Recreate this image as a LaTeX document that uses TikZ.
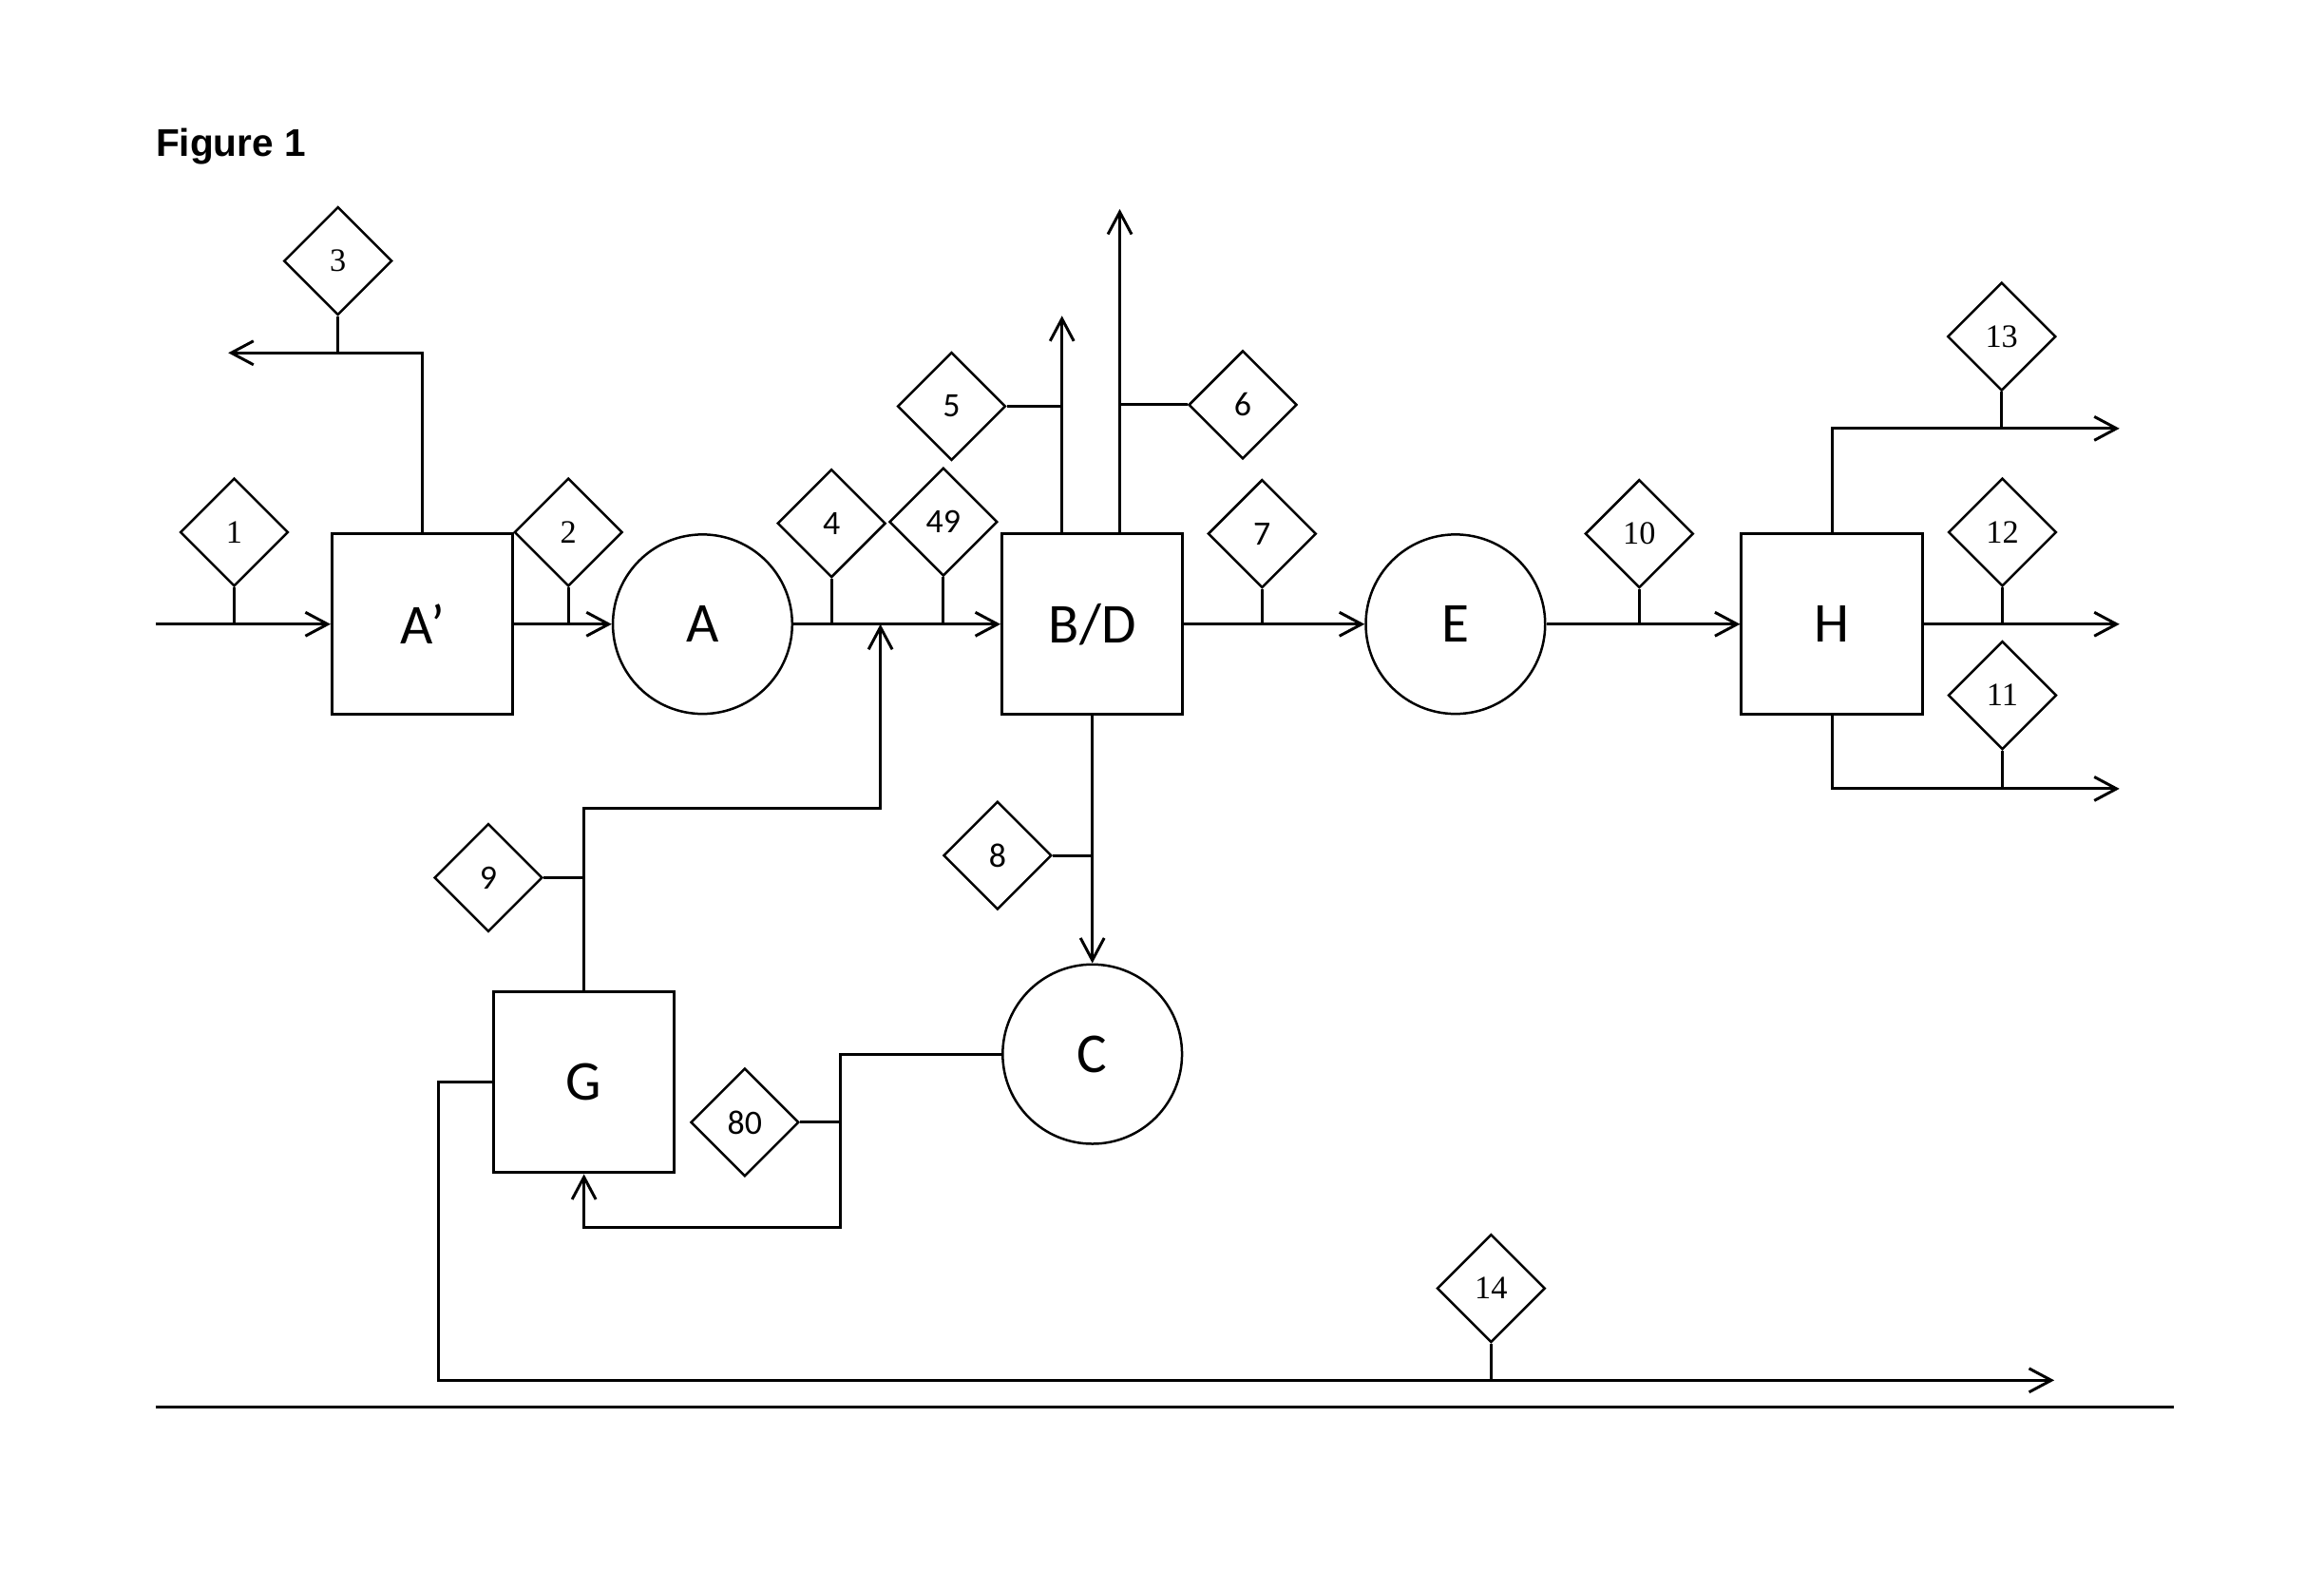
\documentclass[tikz,border=0pt]{standalone}
\usepackage{fontspec}
\setmainfont{Carlito}
\newfontfamily\titlefont{Liberation Sans}
\newfontfamily\serifnum{Liberation Serif}
\usetikzlibrary{shapes.geometric,arrows.meta}
\tikzset{
  flow/.style={line width=1.9pt},
  arr/.style={flow,-{Straight Barb[length=15pt,width=16pt,line width=1.9pt]}},
  unitbox/.style={draw,line width=1.9pt,rectangle,minimum width=122pt,minimum height=122pt,inner sep=0pt,font=\fontsize{38}{40}\selectfont},
  unitcirc/.style={draw,line width=1.6pt,circle,minimum size=121pt,inner sep=0pt,font=\fontsize{38}{40}\selectfont},
  tag/.style={draw,line width=1.6pt,diamond,minimum width=73pt,minimum height=73pt,inner sep=0pt,fill=white},
  tagsans/.style={tag,font=\fontsize{23}{25}\selectfont},
  tagserif/.style={tag,font=\serifnum\fontsize{22}{24}\selectfont},
}
\begin{document}
\begin{tikzpicture}[x=1pt,y=-1pt]
\useasboundingbox (0,0) rectangle (1568,1072);
\node[anchor=base west,font=\titlefont\bfseries\fontsize{26}{28}\selectfont,inner sep=0pt] (title) at (105,105.5) {Figure 1};

% units
\node[unitbox]  (Ap) at (285,421) {A’};
\node[unitcirc] (A)  at (474,421) {A};
\node[unitbox]  (BD) at (737,421) {B/D};
\node[unitcirc] (E)  at (982,421) {E};
\node[unitbox]  (H)  at (1236,421) {H};
\node[unitcirc] (C)  at (737,711) {C};
\node[unitbox]  (G)  at (394,730) {G};

% free ends and bends
\coordinate (in)  at (105,421);
\coordinate (o3)  at (154,238);
\coordinate (o5)  at (716.5,213);
\coordinate (o6)  at (755.5,141);
\coordinate (o13) at (1430,289);
\coordinate (o12) at (1430,421);
\coordinate (o11) at (1430,532);
\coordinate (o14) at (1386,931);
\coordinate (r)   at (594,545);
\coordinate (k1)  at (567,828);
\coordinate (k2)  at (296,931);
\coordinate (bl)  at (105,949);
\coordinate (br)  at (1467,949);

% connectors
\draw[arr] (in) -- (Ap.west);
\draw[arr] (Ap.east) -- (A.west);
\draw[arr] (A.east) -- (BD.west);
\draw[arr] (BD.east) -- (E.west);
\draw[arr] (E.east) -- (H.west);
\draw[arr] (H.east) -- (o12);
\draw[arr] (H.north) |- (o13);
\draw[arr] (H.south) |- (o11);
\draw[arr] (Ap.north) |- (o3);
\draw[arr] (BD.north -| o5) -- (o5);
\draw[arr] (BD.north -| o6) -- (o6);
\draw[arr] (BD.south) -- (C.north);
\draw[arr] (G.north) |- (r) -- (r |- BD.west);
\draw[arr] (C.west) -| (k1) -| (G.south);
\draw[arr] (G.west) -| (k2) -- (o14);
\draw[flow] (bl) -- (br);

% stream tags
\node[tagserif] (d1)  at (158,359) {1};
\node[tagserif] (d2)  at (383.5,359) {2};
\node[tagserif] (d3)  at (228,176) {3};
\node[tagsans]  (d4)  at (561,353) {4};
\node[tagsans]  (d49) at (636.5,352) {49};
\node[tagsans]  (d5)  at (642,274) {5};
\node[tagsans]  (d6)  at (838.5,273) {6};
\node[tagsans]  (d7)  at (851.5,360) {7};
\node[tagserif] (d10) at (1106,360) {10};
\node[tagserif] (d13) at (1350.5,227) {13};
\node[tagserif] (d12) at (1351,359) {12};
\node[tagserif] (d11) at (1351,469) {11};
\node[tagsans]  (d8)  at (673,577) {8};
\node[tagsans]  (d9)  at (329.5,592) {9};
\node[tagsans]  (d80) at (502.5,757) {80};
\node[tagserif] (d14) at (1006,869) {14};

\draw[flow] (d1.south) -- (d1.south |- in);
\draw[flow] (d2.south) -- (d2.south |- Ap.east);
\draw[flow] (d3.south) -- (d3.south |- o3);
\draw[flow] (d4.south) -- (d4.south |- A.east);
\draw[flow] (d49.south) -- (d49.south |- A.east);
\draw[flow] (d5.east) -- (d5.east -| o5);
\draw[flow] (d6.west) -- (d6.west -| o6);
\draw[flow] (d7.south) -- (d7.south |- BD.east);
\draw[flow] (d10.south) -- (d10.south |- E.east);
\draw[flow] (d13.south) -- (d13.south |- o13);
\draw[flow] (d12.south) -- (d12.south |- o12);
\draw[flow] (d11.south) -- (d11.south |- o11);
\draw[flow] (d8.east) -- (d8.east -| BD.south);
\draw[flow] (d9.east) -- (d9.east -| G.north);
\draw[flow] (d80.east) -- (d80.east -| k1);
\draw[flow] (d14.south) -- (d14.south |- o14);
\end{tikzpicture}
\end{document}
